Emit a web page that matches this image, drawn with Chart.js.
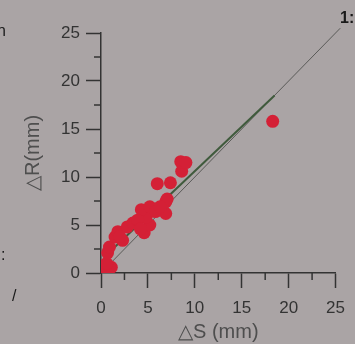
<!DOCTYPE html>
<html>
<head>
<meta charset="utf-8">
<script src="https://cdn.jsdelivr.net/npm/chart.js@4"></script>
<style>
  html, body { margin: 0; padding: 0; background: #aaa4a5; }
  #wrap { width: 355px; height: 344px; }
</style>
</head>
<body>
<div id="wrap"><canvas id="c" width="355" height="344"></canvas></div>
<script>
// 测量点 (ΔS, ΔR)
const pointsS = [0.4, 1.1, 0.6, 0.7, 0.9, 2.3, 1.5, 1.8, 2.8, 3.4, 4.6, 5.2, 4.8, 4.3, 5.2, 6.9, 6.9, 7.05, 6.0, 7.4, 8.6, 8.5, 9.05, 18.3, 3.9, 4.2, 2.0, 5.8, 6.3];
const pointsR = [0.5, 0.6, 1.0, 2.1, 2.7, 3.4, 3.75, 4.3, 4.8, 5.2, 4.2, 5.0, 5.8, 6.6, 6.9, 6.2, 7.4, 7.7, 9.3, 9.4, 10.6, 11.6, 11.5, 15.8, 5.5, 4.6, 3.8, 6.4, 6.9];

// 拟合线 和 1:1 线
const fitS = [0.6, 18.5];
const fitR = [1.9, 18.5];
const oneS = [0, 25.5];
const oneR = [0, 25.5];

const tickValues = [0, 5, 10, 15, 20, 25];

const toXY = (xs, ys) => xs.map((x, i) => ({ x: x, y: ys[i] }));

const axisColor = '#333';
const tickFont = { family: 'Liberation Sans, Arial, sans-serif', size: 17 };
const titleFont = { family: 'Liberation Sans, Arial, sans-serif', size: 20 };

// 次刻度 + 边角文字
const extrasPlugin = {
    id: 'extras',
    afterDraw(chart) {
        const ctx = chart.ctx;
        const xs = chart.scales.x, ys = chart.scales.y;
        ctx.save();
        ctx.strokeStyle = axisColor;
        ctx.lineWidth = 1.5;
        for (let v = 2.5; v < 25; v += 5) {
            const px = xs.getPixelForValue(v);
            ctx.beginPath();
            ctx.moveTo(px, xs.top);
            ctx.lineTo(px, xs.top + 7);
            ctx.stroke();
            const py = ys.getPixelForValue(v);
            ctx.beginPath();
            ctx.moveTo(ys.right, py);
            ctx.lineTo(ys.right - 7, py);
            ctx.stroke();
        }
        ctx.fillStyle = '#1a1a1a';
        ctx.font = 'bold 16px Liberation Sans, Arial, sans-serif';
        ctx.textBaseline = 'middle';
        ctx.fillText('1:1', 340, 19);
        ctx.font = '16px Liberation Sans, Arial, sans-serif';
        ctx.fillText('n', -3, 32);
        ctx.fillText(':', 1, 256);
        ctx.fillText('/', 12, 297);
        ctx.restore();
    }
};

new Chart(document.getElementById('c'), {
    type: 'scatter',
    data: {
        datasets: [
            {
                type: 'line',
                data: toXY(oneS, oneR),
                borderColor: '#5a5a58',
                borderWidth: 1,
                pointRadius: 0,
                clip: false,
                order: 3
            },
            {
                type: 'line',
                data: toXY(fitS, fitR),
                borderColor: '#3f5a3c',
                borderWidth: 2,
                pointRadius: 0,
                order: 2
            },
            {
                data: toXY(pointsS, pointsR),
                backgroundColor: '#d42036',
                borderWidth: 0,
                pointRadius: 6.5,
                order: 1
            }
        ]
    },
    options: {
        responsive: false,
        animation: false,
        layout: { padding: { top: 33, right: 17, left: 0, bottom: 0 } },
        plugins: { legend: { display: false }, tooltip: { enabled: false } },
        scales: {
            x: {
                type: 'linear',
                min: 0, max: 25,
                afterBuildTicks: s => { s.ticks = tickValues.map(v => ({ value: v })); },
                afterFit: s => { s.height = 71; },
                ticks: { color: axisColor, font: tickFont, padding: 10, maxRotation: 0 },
                grid: { drawOnChartArea: false, tickLength: 15, tickColor: axisColor, tickWidth: 1.5 },
                border: { color: axisColor, width: 1.5 },
                title: { display: true, text: '△S (mm)', color: '#4e4e4e', font: titleFont, padding: { top: 0, bottom: 0 } }
            },
            y: {
                type: 'linear',
                min: 0, max: 25,
                afterBuildTicks: s => { s.ticks = tickValues.map(v => ({ value: v })); },
                afterFit: s => { s.width = 101; },
                ticks: { color: axisColor, font: tickFont, padding: 6 },
                grid: { drawOnChartArea: false, tickLength: 15, tickColor: axisColor, tickWidth: 1.5 },
                border: { color: axisColor, width: 1.5 },
                title: { display: true, text: '△R(mm)', color: '#4e4e4e', font: titleFont, padding: { top: 21, bottom: 0 } }
            }
        }
    },
    plugins: [extrasPlugin]
});
</script>
</body>
</html>
